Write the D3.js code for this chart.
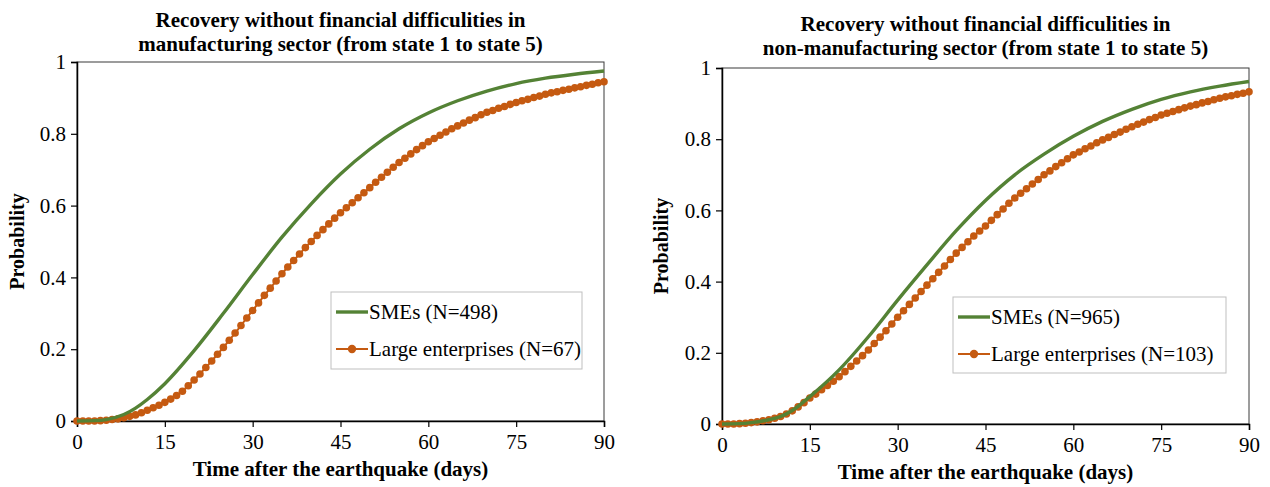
<!DOCTYPE html>
<html>
<head>
<meta charset="utf-8">
<script src="https://cdn.jsdelivr.net/npm/d3@7"></script>
<style>
  body { margin: 0; background: #fff; }
  svg { display: block; font-family: "Liberation Serif", "Times New Roman", serif; }
</style>
</head>
<body>
<div id="chart"></div>
<script>
// Data
const xTicks = [0, 15, 30, 45, 60, 75, 90];
const yTicks = [0, 0.2, 0.4, 0.6, 0.8, 1];
const yTickLabels = ['0', '0.2', '0.4', '0.6', '0.8', '1'];

// SMEs curves (smooth line, sampled)
const smeDays = [0, 3, 5, 8, 10, 12, 15, 20, 25, 30, 35, 40, 45, 50, 55, 60, 65, 70, 75, 80, 85, 90];
const smeManuf = [0, 0.001, 0.004, 0.018, 0.036, 0.060, 0.104, 0.196, 0.300, 0.408, 0.512, 0.605, 0.688, 0.757, 0.814, 0.858, 0.892, 0.919, 0.940, 0.955, 0.966, 0.975];
const smeNonManuf = [0, 0.001, 0.004, 0.012, 0.021, 0.038, 0.077, 0.152, 0.245, 0.348, 0.447, 0.543, 0.628, 0.700, 0.758, 0.808, 0.850, 0.884, 0.912, 0.933, 0.949, 0.962];

// Large enterprises (one marker per day, 0..90)
const largeManuf = [
  0.000, 0.000, 0.000, 0.000, 0.001, 0.002, 0.004, 0.006, 0.009, 0.013,
  0.017, 0.023, 0.030, 0.037, 0.044, 0.052, 0.061, 0.071, 0.083, 0.098,
  0.114, 0.131, 0.149, 0.167, 0.186, 0.205, 0.225, 0.245, 0.266, 0.287,
  0.308, 0.329, 0.350, 0.370, 0.390, 0.410, 0.429, 0.447, 0.465, 0.483,
  0.500, 0.517, 0.533, 0.549, 0.565, 0.580, 0.594, 0.608, 0.622, 0.636,
  0.650, 0.665, 0.679, 0.693, 0.707, 0.720, 0.732, 0.744, 0.756, 0.767,
  0.778, 0.787, 0.796, 0.805, 0.814, 0.822, 0.830, 0.838, 0.845, 0.853,
  0.860, 0.865, 0.871, 0.876, 0.882, 0.887, 0.892, 0.896, 0.901, 0.905,
  0.910, 0.914, 0.917, 0.921, 0.924, 0.928, 0.931, 0.935, 0.938, 0.942,
  0.945
];
const largeNonManuf = [
  0.000, 0.000, 0.000, 0.001, 0.002, 0.004, 0.006, 0.009, 0.012, 0.016,
  0.021, 0.028, 0.037, 0.048, 0.060, 0.073, 0.084, 0.096, 0.108, 0.120,
  0.133, 0.147, 0.162, 0.177, 0.192, 0.208, 0.226, 0.244, 0.262, 0.281,
  0.300, 0.318, 0.336, 0.354, 0.372, 0.390, 0.408, 0.426, 0.444, 0.462,
  0.480, 0.496, 0.512, 0.528, 0.542, 0.556, 0.572, 0.588, 0.604, 0.620,
  0.635, 0.648, 0.661, 0.674, 0.687, 0.700, 0.711, 0.723, 0.734, 0.745,
  0.756, 0.764, 0.773, 0.781, 0.790, 0.798, 0.805, 0.813, 0.820, 0.828,
  0.835, 0.842, 0.848, 0.855, 0.861, 0.868, 0.873, 0.878, 0.883, 0.888,
  0.893, 0.897, 0.902, 0.906, 0.911, 0.915, 0.919, 0.922, 0.926, 0.929,
  0.933
];

const GREEN = '#548235';
const ORANGE = '#C55A11';

const svg = d3.select('#chart').append('svg')
  .attr('width', 1270)
  .attr('height', 487);

const panels = [
  {
    title: ['Recovery without financial difficulities in', 'manufacturing sector (from state 1 to state 5)'],
    sme: smeManuf, large: largeManuf,
    smeLabel: 'SMEs (N=498)', largeLabel: 'Large enterprises (N=67)',
    left: 77, right: 604, top: 62, bottom: 421,
    titleY: 27, xLabelY: 476, yLabelX: 24,
    legend: { x: 331, y: 292, w: 251, h: 77 }
  },
  {
    title: ['Recovery without financial difficulities in', 'non-manufacturing sector (from state 1 to state 5)'],
    sme: smeNonManuf, large: largeNonManuf,
    smeLabel: 'SMEs (N=965)', largeLabel: 'Large enterprises (N=103)',
    left: 722, right: 1249, top: 68, bottom: 424,
    titleY: 31, xLabelY: 479, yLabelX: 668,
    legend: { x: 953, y: 297, w: 273, h: 76 }
  }
];

panels.forEach(drawPanel);

function drawPanel(p) {
  const g = svg.append('g');
  const x = d3.scaleLinear().domain([0, 90]).range([p.left, p.right]);
  const y = d3.scaleLinear().domain([0, 1]).range([p.bottom, p.top]);
  const cx = (p.left + p.right) / 2;

  // Title
  g.append('text')
    .attr('x', cx)
    .attr('text-anchor', 'middle')
    .style('font-weight', 'bold')
    .style('font-size', '21px')
    .selectAll('tspan')
    .data(p.title)
    .join('tspan')
    .attr('x', cx)
    .attr('y', (d, i) => p.titleY + i * 24)
    .text(d => d);

  // Plot frame (top/right)
  g.append('rect')
    .attr('x', p.left).attr('y', p.top)
    .attr('width', p.right - p.left).attr('height', p.bottom - p.top)
    .attr('fill', 'none')
    .attr('stroke', '#3a3a3a')
    .attr('stroke-width', 1);

  // Axes
  const xAxis = g.append('g')
    .attr('transform', `translate(0,${p.bottom})`)
    .call(d3.axisBottom(x).tickValues(xTicks).tickSize(6).tickPadding(7));
  const yAxis = g.append('g')
    .attr('transform', `translate(${p.left},0)`)
    .call(d3.axisLeft(y).tickValues(yTicks).tickSize(6).tickPadding(5)
      .tickFormat((d, i) => yTickLabels[i]));
  [xAxis, yAxis].forEach(a => {
    a.select('.domain').attr('stroke', '#000').attr('stroke-width', 1.5);
    a.selectAll('.tick line').attr('stroke', '#000').attr('stroke-width', 1.2);
    a.selectAll('.tick text')
      .attr('fill', '#000')
      .style('font-family', '"Liberation Serif", "Times New Roman", serif')
      .style('font-size', '21px');
  });

  // Axis titles
  g.append('text')
    .attr('x', cx).attr('y', p.xLabelY)
    .attr('text-anchor', 'middle')
    .style('font-weight', 'bold')
    .style('font-size', '21px')
    .text('Time after the earthquake (days)');
  g.append('text')
    .attr('transform', `translate(${p.yLabelX},${(p.top + p.bottom) / 2}) rotate(-90)`)
    .attr('text-anchor', 'middle')
    .style('font-weight', 'bold')
    .style('font-size', '20px')
    .text('Probability');

  // Lines
  const smeLine = d3.line()
    .x((d, i) => x(smeDays[i]))
    .y(d => y(d))
    .curve(d3.curveMonotoneX);
  const largeLine = d3.line()
    .x((d, i) => x(i))
    .y(d => y(d))
    .curve(d3.curveMonotoneX);

  g.append('path')
    .datum(p.large)
    .attr('d', largeLine)
    .attr('fill', 'none')
    .attr('stroke', ORANGE)
    .attr('stroke-width', 2);
  g.append('g')
    .selectAll('circle')
    .data(p.large)
    .join('circle')
    .attr('cx', (d, i) => x(i))
    .attr('cy', d => y(d))
    .attr('r', 3.8)
    .attr('fill', ORANGE);

  g.append('path')
    .datum(p.sme)
    .attr('d', smeLine)
    .attr('fill', 'none')
    .attr('stroke', GREEN)
    .attr('stroke-width', 3.4);

  // Legend
  const L = p.legend;
  const lg = g.append('g').attr('transform', `translate(${L.x},${L.y})`);
  lg.append('rect')
    .attr('width', L.w).attr('height', L.h)
    .attr('fill', '#fff')
    .attr('stroke', '#bfbfbf')
    .attr('stroke-width', 1);
  lg.append('line')
    .attr('x1', 5).attr('x2', 37).attr('y1', 20).attr('y2', 20)
    .attr('stroke', GREEN).attr('stroke-width', 3.4);
  lg.append('line')
    .attr('x1', 5).attr('x2', 37).attr('y1', 57).attr('y2', 57)
    .attr('stroke', ORANGE).attr('stroke-width', 2);
  lg.append('circle')
    .attr('cx', 21).attr('cy', 57).attr('r', 4.2)
    .attr('fill', ORANGE);
  lg.selectAll('text.lab')
    .data([p.smeLabel, p.largeLabel])
    .join('text')
    .attr('class', 'lab')
    .attr('x', 38)
    .attr('y', (d, i) => 27 + i * 37)
    .style('font-size', '21px')
    .text(d => d);
}
</script>
</body>
</html>
